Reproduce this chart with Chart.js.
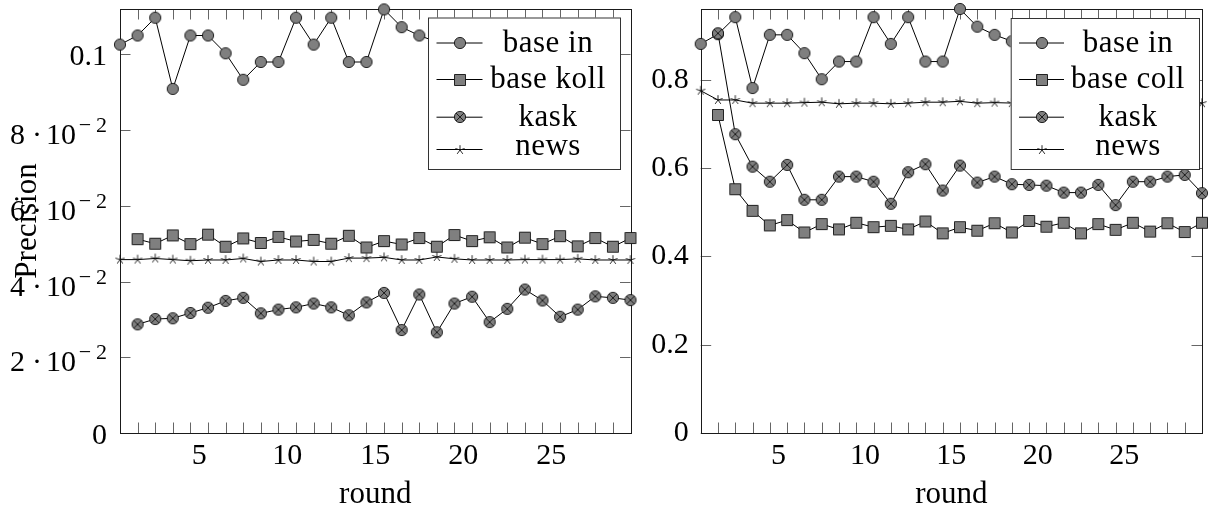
<!DOCTYPE html>
<html>
<head>
<meta charset="utf-8">
<script src="https://cdn.jsdelivr.net/npm/chart.js@4.4.1/dist/chart.umd.min.js"></script>
<style>
  html, body { margin: 0; padding: 0; background: #fff; }
  body { width: 1209px; height: 510px; overflow: hidden; position: relative; }
  #left { position: absolute; left: 0; top: 0; }
  #right { position: absolute; left: 640px; top: 0; }
</style>
</head>
<body>
<canvas id="left" width="640" height="510" style="width:640px;height:510px"></canvas>
<canvas id="right" width="569" height="510" style="width:569px;height:510px"></canvas>
<script>
// ---------------- data ----------------
const rounds = [0, 1, 2, 3, 4, 5, 6, 7, 8, 9, 10, 11, 12, 13, 14, 15, 16, 17, 18, 19, 20, 21, 22, 23, 24, 25, 26, 27, 28, 29];
const xTickPositions = [4.5, 9.5, 14.5, 19.5, 24.5];
const xTickLabels = ['5', '10', '15', '20', '25'];

const leftYTicks = [0, 0.02, 0.04, 0.06, 0.08, 0.1];
const leftYTickLabels = ['0', '2 · 10^−2', '4 · 10^−2', '6 · 10^−2', '8 · 10^−2', '0.1'];
const rightYTicks = [0, 0.2, 0.4, 0.6, 0.8];
const rightYTickLabels = ['0', '0.2', '0.4', '0.6', '0.8'];

const leftLabels = ['base in', 'base koll', 'kask', 'news'];
const rightLabels = ['base in', 'base coll', 'kask', 'news'];

const leftBaseIn = [0.1026, 0.1050, 0.1097, 0.0909, 0.1050, 0.1050, 0.1003, 0.0933, 0.0980, 0.0980, 0.1097, 0.1026, 0.1097, 0.0980, 0.0980, 0.1119, 0.1072, 0.1050, 0.1033, 0.1001, 0.1049, 0.0979, 0.1026, 0.1049, 0.0979, 0.1001, 0.1026, 0.0979, 0.1001, null];
const leftBaseKoll = [null, 0.0512, 0.0500, 0.0522, 0.0499, 0.0524, 0.0492, 0.0514, 0.0502, 0.0518, 0.0506, 0.0510, 0.0500, 0.0521, 0.0490, 0.0507, 0.0498, 0.0515, 0.0492, 0.0523, 0.0507, 0.0517, 0.0490, 0.0516, 0.0499, 0.0520, 0.0493, 0.0515, 0.0492, 0.0515];
const leftKask = [null, 0.0287, 0.0301, 0.0303, 0.0317, 0.0331, 0.0349, 0.0357, 0.0316, 0.0326, 0.0332, 0.0342, 0.0332, 0.0311, 0.0345, 0.0370, 0.0272, 0.0366, 0.0266, 0.0342, 0.0360, 0.0293, 0.0328, 0.0379, 0.0350, 0.0307, 0.0326, 0.0361, 0.0357, 0.0351];
const leftNews = [0.0458, 0.0458, 0.0461, 0.0458, 0.0455, 0.0457, 0.0457, 0.0461, 0.0453, 0.0457, 0.0457, 0.0453, 0.0453, 0.0462, 0.0462, 0.0464, 0.0457, 0.0457, 0.0465, 0.0460, 0.0457, 0.0457, 0.0457, 0.0458, 0.0458, 0.0458, 0.0460, 0.0457, 0.0457, 0.0457];

const rightBaseIn = [0.881, 0.903, 0.9415, 0.781, 0.9015, 0.9015, 0.860, 0.801, 0.841, 0.841, 0.9415, 0.881, 0.9415, 0.841, 0.841, 0.960, 0.920, 0.9015, 0.887, 0.860, 0.9015, 0.841, 0.881, 0.9015, 0.841, 0.860, 0.881, 0.841, 0.860, null];
const rightBaseColl = [null, 0.720, 0.552, 0.503, 0.470, 0.482, 0.454, 0.473, 0.461, 0.476, 0.466, 0.469, 0.461, 0.479, 0.452, 0.466, 0.458, 0.475, 0.454, 0.480, 0.467, 0.476, 0.452, 0.473, 0.460, 0.476, 0.456, 0.475, 0.455, 0.476];
const rightKask = [null, 0.905, 0.6765, 0.603, 0.569, 0.607, 0.528, 0.528, 0.5805, 0.5805, 0.569, 0.519, 0.5905, 0.6086, 0.549, 0.6055, 0.567, 0.5805, 0.5633, 0.5617, 0.560, 0.5443, 0.5443, 0.5617, 0.516, 0.569, 0.569, 0.5805, 0.5844, 0.543];
const rightNews = [0.775, 0.754, 0.754, 0.7468, 0.7468, 0.7468, 0.748, 0.749, 0.7453, 0.7468, 0.7468, 0.7453, 0.7468, 0.749, 0.749, 0.751, 0.7468, 0.748, 0.747, 0.748, 0.747, 0.747, 0.748, 0.747, 0.747, 0.748, 0.747, 0.747, 0.747, 0.7468];

// ---------------- styling ----------------
const FAMILY = "'Liberation Serif', 'Times New Roman', serif";
const FS = 30;       // tick numbers
const FS_TXT = 31;   // words
const MARK_FILL = '#7f7f7f';
const MARK_LINE = '#111';

function markerCanvas(kind) {
  const s = 16, m = 8;
  const c = document.createElement('canvas');
  c.width = s; c.height = s;
  const g = c.getContext('2d');
  g.lineWidth = 0.9; g.strokeStyle = MARK_LINE; g.fillStyle = MARK_FILL;
  if (kind === 'circle' || kind === 'otimes') {
    g.beginPath(); g.arc(m, m, 5.6, 0, Math.PI * 2); g.fill(); g.stroke();
    if (kind === 'otimes') {
      const d = 5.6 * Math.SQRT1_2;
      g.beginPath();
      g.moveTo(m - d, m - d); g.lineTo(m + d, m + d);
      g.moveTo(m + d, m - d); g.lineTo(m - d, m + d);
      g.stroke();
    }
  } else if (kind === 'square') {
    g.beginPath(); g.rect(m - 5.5, m - 5.5, 11, 11); g.fill(); g.stroke();
  } else if (kind === 'star') {
    g.beginPath();
    for (let k = 0; k < 5; k++) {
      const a = -Math.PI / 2 + k * 2 * Math.PI / 5;
      g.moveTo(m, m); g.lineTo(m + 4.8 * Math.cos(a), m + 4.8 * Math.sin(a));
    }
    g.lineWidth = 0.9; g.stroke();
  }
  return c;
}
const markers = ['circle', 'square', 'otimes', 'star'].map(markerCanvas);

// frame with inward ticks (pgfplots style)
const framePlugin = {
  id: 'frame',
  beforeDatasetsDraw(chart) {
    const { ctx, chartArea: a } = chart;
    const x = chart.scales.x, y = chart.scales.y;
    const TL = 10.5;
    ctx.save();
    ctx.strokeStyle = '#666'; ctx.lineWidth = 1;
    ctx.beginPath();
    rounds.forEach((r, i) => {
      if (i === 0 || i === rounds.length - 1) return;
      const px = Math.round(x.getPixelForValue(r)) + 0.5;
      ctx.moveTo(px, a.bottom); ctx.lineTo(px, a.bottom - TL);
      ctx.moveTo(px, a.top); ctx.lineTo(px, a.top + TL);
    });
    y.ticks.forEach(t => {
      const py = Math.round(y.getPixelForValue(t.value)) + 0.5;
      ctx.moveTo(a.left, py); ctx.lineTo(a.left + TL, py);
      ctx.moveTo(a.right, py); ctx.lineTo(a.right - TL, py);
    });
    ctx.stroke();
    ctx.strokeStyle = '#1a1a1a';
    ctx.strokeRect(Math.round(a.left) + 0.5, Math.round(a.top) + 0.5,
                   Math.round(a.right) - Math.round(a.left), Math.round(a.bottom) - Math.round(a.top));
    ctx.restore();
  }
};

function legendPlugin(cfg) {
  return {
    id: 'boxLegend',
    afterDatasetsDraw(chart) {
      const ctx = chart.ctx, b = cfg.box;
      ctx.save();
      ctx.fillStyle = '#fff';
      ctx.fillRect(b.x, b.y, b.w, b.h);
      ctx.strokeStyle = '#333'; ctx.lineWidth = 1;
      ctx.strokeRect(b.x + 0.5, b.y + 0.5, b.w, b.h);
      chart.data.datasets.forEach((ds, k) => {
        const ry = cfg.rowY[k];
        ctx.strokeStyle = '#000'; ctx.lineWidth = 1;
        ctx.beginPath();
        ctx.moveTo(b.x + cfg.sample[0], ry + 0.5);
        ctx.lineTo(b.x + cfg.sample[1], ry + 0.5);
        ctx.stroke();
        const img = ds.pointStyle;
        const cx = b.x + (cfg.sample[0] + cfg.sample[1]) / 2;
        ctx.drawImage(img, Math.round(cx - img.width / 2), Math.round(ry + 0.5 - img.height / 2));
        ctx.font = FS_TXT + 'px ' + FAMILY;
        if ('letterSpacing' in ctx) ctx.letterSpacing = '0.5px';
        ctx.fillStyle = '#000';
        ctx.textAlign = 'center';
        ctx.textBaseline = 'alphabetic';
        ctx.fillText(ds.label, b.x + cfg.textX, cfg.textBase[k]);
      });
      ctx.restore();
    }
  };
}

// left-axis labels with superscript exponents
function sciLabelPlugin(labels, R) {
  return {
    id: 'sciLabels',
    afterDraw(chart) {
      const ctx = chart.ctx, y = chart.scales.y;
      ctx.save();
      ctx.fillStyle = '#000';
      ctx.textBaseline = 'alphabetic';
      y.ticks.forEach((t, i) => {
        const py = y.getPixelForValue(t.value);
        const lab = labels[i];
        const parts = lab.split('^');
        ctx.font = FS + 'px ' + FAMILY;
        if (parts.length === 1) {
          ctx.textAlign = 'right';
          ctx.fillText(lab, R, py + 10.5);
        } else {
          const [mant, base] = parts[0].split(' · ');
          ctx.textAlign = 'right';
          ctx.fillText(base, R - 31, py + 14);
          ctx.textAlign = 'center';
          ctx.fillText('·', R - 70, py + 14);
          ctx.textAlign = 'right';
          ctx.fillText(mant, R - 82, py + 14);
          ctx.font = '22px ' + FAMILY;
          const sign = parts[1].slice(0, 1), num = parts[1].slice(1);
          ctx.textAlign = 'center';
          ctx.fillText(sign, R - 22, py + 2);
          ctx.textAlign = 'right';
          ctx.fillText(num, R, py + 2);
        }
      });
      ctx.restore();
    }
  };
}

function build(id, o) {
  const font = { family: FAMILY, size: FS, lineHeight: 1 };
  const tfont = { family: FAMILY, size: FS_TXT, lineHeight: 1 };
  return new Chart(document.getElementById(id), {
    type: 'line',
    data: {
      datasets: o.series.map((vals, k) => ({
        label: o.labels[k],
        data: rounds.map((r, i) => ({ x: r, y: vals[i] })),
        borderColor: '#000',
        borderWidth: 1,
        pointStyle: markers[k],
        pointRadius: 6,
        pointHoverRadius: 6,
        clip: false,
        spanGaps: false,
        tension: 0,
        order: 3 - k
      }))
    },
    options: {
      responsive: false,
      animation: false,
      events: [],
      layout: { padding: { top: 9, right: o.padRight, left: 0, bottom: 0 } },
      plugins: { legend: { display: false }, tooltip: { enabled: false } },
      scales: {
        x: {
          type: 'linear', min: 0, max: 29,
          grid: { display: false, drawTicks: false },
          border: { display: false },
          afterBuildTicks: s => { s.ticks = xTickPositions.map(v => ({ value: v })); },
          ticks: { autoSkip: false, maxRotation: 0, padding: 8, color: '#000', font,
                   callback: (v, i) => xTickLabels[i] },
          title: { display: true, text: 'round', color: '#000', font: tfont, padding: { top: 0, bottom: 0 } },
          afterFit: s => { s.height = 77; s.paddingLeft = 0; s.paddingRight = 0; }
        },
        y: {
          type: 'linear', min: 0, max: o.yMax,
          grid: { display: false, drawTicks: false },
          border: { display: false },
          afterBuildTicks: s => { s.ticks = o.yTicks.map(v => ({ value: v })); },
          ticks: { display: o.showYTicks, padding: 12, color: '#000', font,
                   callback: (v, i) => o.yTickLabels[i] },
          title: o.yTitle ? { display: true, text: o.yTitle, color: '#000', font: tfont, padding: { top: 12, bottom: 0 } } : { display: false },
          afterFit: s => { s.width = o.yWidth; s.paddingTop = 0; s.paddingBottom = 0; }
        }
      }
    },
    plugins: o.plugins
  });
}

build('left', {
  series: [leftBaseIn, leftBaseKoll, leftKask, leftNews],
  labels: leftLabels,
  yMax: 0.112, yTicks: leftYTicks, yTickLabels: leftYTickLabels,
  showYTicks: false, yTitle: 'Precision', yWidth: 120, padRight: 9.5,
  plugins: [framePlugin, sciLabelPlugin(leftYTickLabels, 107),
    legendPlugin({ box: { x: 428, y: 17.5, w: 192, h: 151.5 }, sample: [8.5, 54.5], textX: 120,
                   rowY: [42.5, 79, 116.7, 149], textBase: [52, 87.5, 125.5, 154.5] })]
});

build('right', {
  series: [rightBaseIn, rightBaseColl, rightKask, rightNews],
  labels: rightLabels,
  yMax: 0.96, yTicks: rightYTicks, yTickLabels: rightYTickLabels,
  showYTicks: true, yTitle: null, yWidth: 60.7, padRight: 0.5,
  plugins: [framePlugin,
    legendPlugin({ box: { x: 370.7, y: 18, w: 188.3, h: 151 }, sample: [8.3, 53.3], textX: 117.3,
                   rowY: [42.5, 79, 116.7, 149], textBase: [52, 87.5, 125.5, 154.5] })]
});
</script>
</body>
</html>
